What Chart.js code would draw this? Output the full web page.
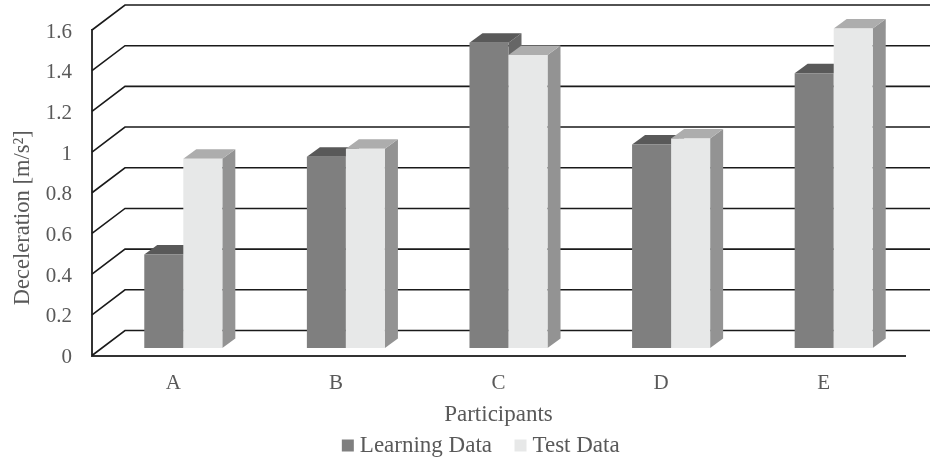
<!DOCTYPE html>
<html>
<head>
<meta charset="utf-8">
<style>html,body{margin:0;padding:0;background:#fff}canvas{display:block}</style>
<script src="https://cdn.jsdelivr.net/npm/chart.js@4"></script>
</head>
<body>
<canvas id="c" width="930" height="458"></canvas>
<script>
const categories = ['A', 'B', 'C', 'D', 'E'];
const learningData = [0.46, 0.94, 1.50, 1.00, 1.35];
const testData = [0.93, 0.98, 1.44, 1.03, 1.57];

const SERIF = '"Liberation Serif", "Times New Roman", serif';
const TEXT = '#595959';

// Oblique projection used for the floor/wall and for the bar prisms
const WALL = {dx: 33, dy: -25};
const BAR_SHIFT = {dx: 10, dy: -7.5};
const BAR_DEPTH = {dx: 13, dy: -9.5};
const Y_TITLE_SHIFT = 25;

const shades = [
  {front: '#7f7f7f', side: '#666666', top: '#595959'},
  {front: '#e7e8e8', side: '#939393', top: '#adadad'}
];

const wallPlugin = {
  id: 'wall',
  beforeDatasetsDraw(chart) {
    const {ctx, scales: {y}, width} = chart;
    const left = chart.chartArea.left;
    ctx.save();
    ctx.strokeStyle = '#1a1a1a';
    ctx.lineWidth = 1.6;
    y.ticks.forEach(t => {
      const py = y.getPixelForValue(t.value);
      ctx.beginPath();
      ctx.moveTo(left, py);
      ctx.lineTo(left + WALL.dx, py + WALL.dy);
      ctx.lineTo(width, py + WALL.dy);
      ctx.stroke();
    });
    ctx.restore();
  }
};

function drawPrismFaces(ctx, bar, tone) {
  const {x, y, base, width} = bar.getProps(['x', 'y', 'base', 'width'], true);
  const l = x - width / 2, r = x + width / 2;
  ctx.fillStyle = tone.side;
  ctx.beginPath();
  ctx.moveTo(r, base);
  ctx.lineTo(r + BAR_DEPTH.dx, base + BAR_DEPTH.dy);
  ctx.lineTo(r + BAR_DEPTH.dx, y + BAR_DEPTH.dy);
  ctx.lineTo(r, y);
  ctx.closePath();
  ctx.fill();
  ctx.fillStyle = tone.top;
  ctx.beginPath();
  ctx.moveTo(l, y);
  ctx.lineTo(l + BAR_DEPTH.dx, y + BAR_DEPTH.dy);
  ctx.lineTo(r + BAR_DEPTH.dx, y + BAR_DEPTH.dy);
  ctx.lineTo(r, y);
  ctx.closePath();
  ctx.fill();
}

// Bars are painted left to right so each front face hides its neighbour's side
const prismPlugin = {
  id: 'prism',
  beforeDatasetsDraw(chart) {
    const {ctx} = chart;
    ctx.save();
    ctx.translate(BAR_SHIFT.dx, BAR_SHIFT.dy);
    [0, 1].forEach(i => {
      chart.getDatasetMeta(i).data.forEach(bar => {
        drawPrismFaces(ctx, bar, shades[i]);
        bar.draw(ctx);
      });
    });
    ctx.restore();
  },
  beforeDatasetDraw() {
    return false;
  },
  afterLayout(chart) {
    // Legend sits slightly left of the page centre, under the axis title
    const lg = chart.legend;
    const h = lg.height;
    lg.left = 37; lg.right = 930;
    lg.top = 406; lg.bottom = 406 + h;
  }
};

new Chart(document.getElementById('c'), {
  type: 'bar',
  data: {
    labels: categories,
    datasets: [
      {label: 'Learning Data', data: learningData, backgroundColor: shades[0].front, pointStyle: 'rect'},
      {label: 'Test Data', data: testData, backgroundColor: shades[1].front, pointStyle: 'rect'}
    ]
  },
  plugins: [wallPlugin, prismPlugin],
  options: {
    responsive: false,
    animation: false,
    layout: {padding: {top: 30, right: 25, left: 0, bottom: -31.5}},
    datasets: {bar: {categoryPercentage: 0.48, barPercentage: 1}},
    plugins: {
      tooltip: {enabled: false},
      legend: {
        position: 'bottom',
        labels: {
          usePointStyle: true,
          boxWidth: 1,
          boxHeight: 12,
          padding: 28,
          color: TEXT,
          font: {family: SERIF, size: 23}
        }
      }
    },
    scales: {
      x: {
        afterFit(s) { s.height = 73; },
        grid: {display: false, drawTicks: false},
        border: {display: true, color: '#333333', width: 2},
        ticks: {color: TEXT, padding: 15, font: {family: SERIF, size: 21}},
        title: {display: true, text: 'Participants', color: TEXT, padding: {top: 0, bottom: 0}, font: {family: SERIF, size: 23}}
      },
      y: {
        min: 0, max: 1.6,
        afterFit(s) {
          s.width = 92;
          s.paddingTop = 0;
          s.paddingBottom = 0;
          // The axis title is centred lower than the scale's midpoint
          if (!s.titleShifted) {
            const draw = s.drawTitle;
            s.drawTitle = function () {
              this.ctx.save();
              this.ctx.translate(0, Y_TITLE_SHIFT);
              draw.call(this);
              this.ctx.restore();
            };
            s.titleShifted = true;
          }
        },
        grid: {display: false, drawTicks: false},
        border: {display: true, color: '#333333', width: 2},
        ticks: {
          stepSize: 0.2, color: TEXT, padding: 20, labelOffset: 2, font: {family: SERIF, size: 21},
          callback: v => String(+v.toFixed(1))
        },
        title: {display: true, text: 'Deceleration [m/s²]', color: TEXT, padding: {top: 10, bottom: 0}, font: {family: SERIF, size: 22.5}}
      }
    }
  }
});
</script>
</body>
</html>
